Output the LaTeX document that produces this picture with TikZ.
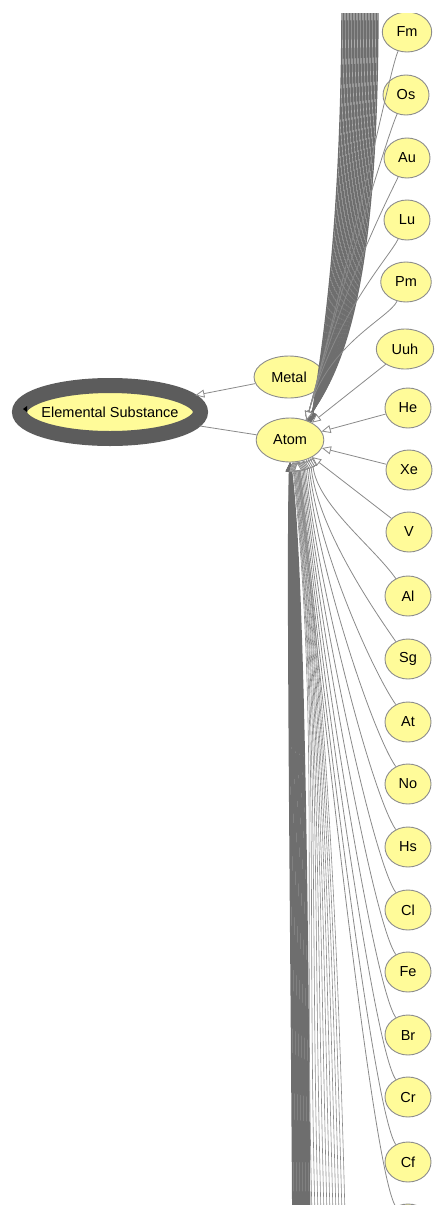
\documentclass[tikz,border=0pt]{standalone}
\usepackage{fontspec}
\setmainfont{Liberation Sans}
\usetikzlibrary{arrows.meta,shapes.geometric}
\definecolor{OntoFill}{HTML}{FFFB99}
\definecolor{OntoBorder}{HTML}{8C8C8C}
\definecolor{OntoEdge}{HTML}{8A8A8A}
\definecolor{OntoBundle}{HTML}{6E6E6E}
\definecolor{OntoFocus}{HTML}{5C5C5C}

\begin{document}
\begin{tikzpicture}[x=1pt,y=1pt,
    concept/.style={ellipse,draw=OntoBorder,fill=OntoFill,line width=0.9pt,
      font=\fontsize{14.5}{16}\selectfont,inner xsep=7pt,inner ysep=2pt,
      minimum width=46pt,minimum height=40pt},
    isa/.style={draw=OntoEdge,line width=0.8pt,-{Triangle[length=9pt,width=8pt,fill=white]}},
    bundle/.style={draw=OntoBundle,line width=1.4pt,-{Triangle[length=9pt,width=8pt,fill=white]}}]
    \useasboundingbox (0,0) rectangle (438,-1205);
    \clip (0,-13) rectangle (438,-1205);

    % the focus concept and its two children
    \node[concept,draw=OntoFocus,line width=15pt,inner xsep=-5pt,
      minimum width=181pt,minimum height=53pt] (es) at (110,-412) {Elemental Substance};
    \fill[black] ([xshift=11pt,yshift=3pt]es.west) -- ++(4,3) -- ++(0,-6) -- cycle;
    \node[concept,minimum height=42pt] (metal) at (289,-377) {Metal};
    \node[concept,minimum height=44pt] (atom) at (290,-440) {Atom};

    \foreach \x/\y/\lab in {407/32/Fm,406/95/Os,407/158/Au,407/220/Lu,406/282/Pm,
        405/349/Uuh,408/408/He,409/470/Xe,409/532/V,408/596/Al,408/659/Sg,
        408/722/At,408/784/No,408/847/Hs,408/910/Cl,408/972/Fe,408/1035/Br,
        408/1097/Cr,408/1162/Cf} {
      \node[concept] (el-\lab) at (\x,-\y) {\lab};
    }
    \node[concept] (el-next) at (408,-1224) {};

    \draw[isa] (metal) -- (es);
    \draw[OntoEdge,line width=0.8pt] (atom) -- (es);

    % hidden elements above and below the view
    \foreach \x [count=\i, evaluate=\x as \a using {int(40+(\x-342)/3)}] in {342,343.5,...,378} {
      \coordinate (top-\i) at (\x,0);
      \draw[bundle] (top-\i) .. controls (\x,-230) and ({\x-20},-350) .. (atom.\a);
    }
    \foreach \x [count=\i] in {293,294.5,...,310} {
      \coordinate (bot-\i) at (\x,-1215);
      \draw[bundle,line width=1.8pt] (bot-\i) .. controls ({\x-2},-900) and ({\x-6},-560) .. (atom.-90);
    }
    \foreach \x [count=\i, evaluate=\x as \a using {int(-84+(\x-312)/2)}] in {312,315,...,346} {
      \coordinate (low-\i) at (\x,-1215);
      \draw[isa,line width=0.6pt] (low-\i) .. controls ({\x-8},-900) and +(-84:250) .. (atom.\a);
    }

    % visible elements
    \foreach \lab/\y in {Fm/32,Os/95,Au/158,Lu/220,Pm/282} {
      \draw[isa] (el-\lab) .. controls +(245:40) and +(75:{0.5*(440-\y)}) .. (atom.50);
    }
    \foreach \lab in {Uuh,He,Xe,V} {
      \draw[isa] (el-\lab) -- (atom);
    }
    \foreach \lab/\y/\a in {Al/596/-38,Sg/659/-42,At/722/-46,No/784/-50,Hs/847/-54,
        Cl/910/-57,Fe/972/-60,Br/1035/-63,Cr/1097/-66,Cf/1162/-69,next/1224/-72} {
      \draw[isa] (el-\lab) .. controls +(125:60) and +(-84:{0.35*(\y-460)}) .. (atom.\a);
    }
  \end{tikzpicture}
\end{document}
